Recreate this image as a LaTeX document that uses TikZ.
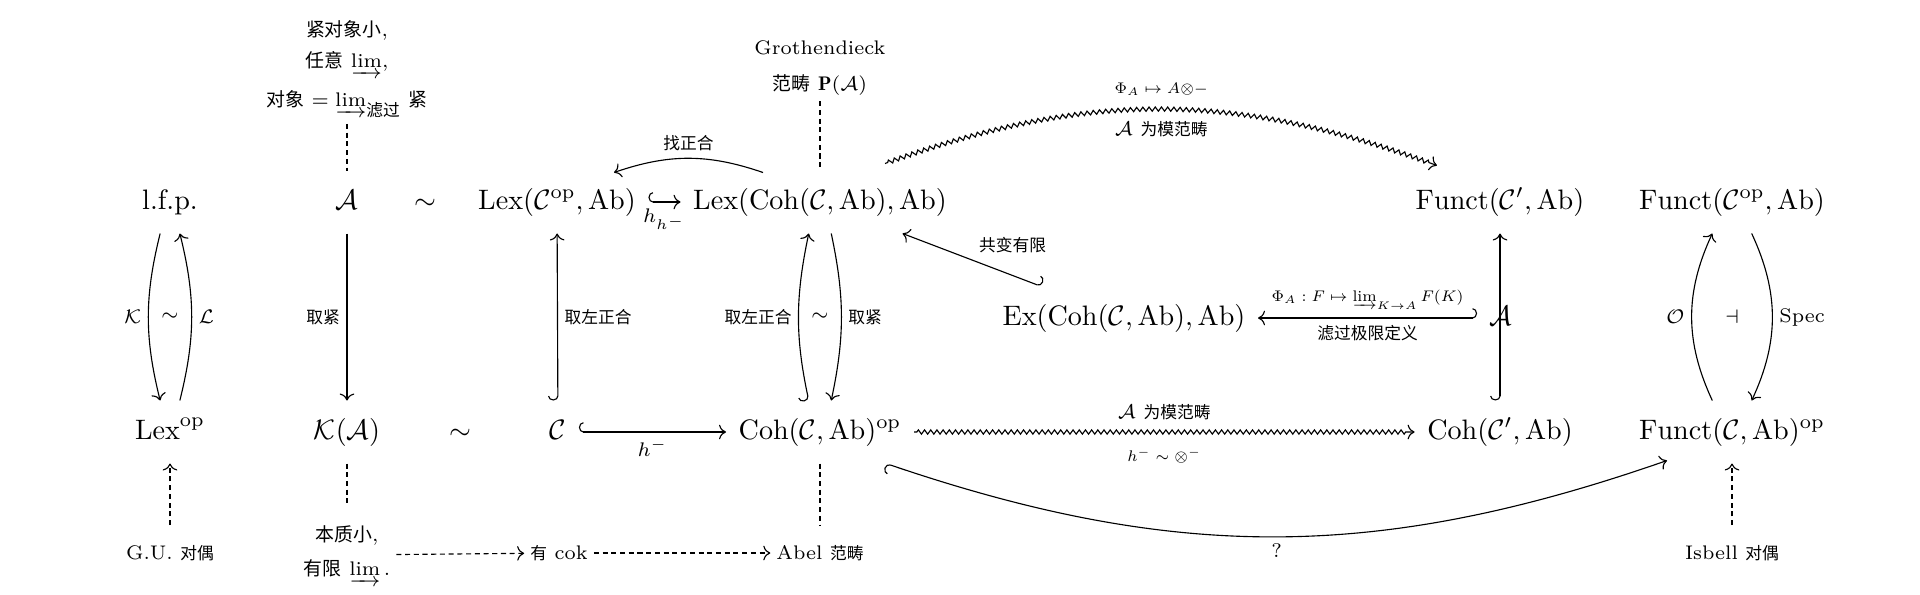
\documentclass[tikz,border=0pt]{standalone}
\usepackage{amsmath}
\usepackage{fontspec}
\newfontfamily\cjk{Noto Sans CJK SC}[Scale=0.85]
\newfontfamily\cjkb{Noto Sans CJK SC}[Scale=0.96]
\newcommand\shrk[1]{\scalebox{0.78}{#1}}
\usetikzlibrary{arrows.meta,decorations.pathmorphing,calc}
\begin{document}
\begin{tikzpicture}[x=0.3555pt,y=-0.3555pt,
  obj/.style={inner xsep=1ex, inner ysep=6pt, text height=7.5pt, text depth=2.5pt},
  lab/.style={font=\scriptsize, inner sep=2.3pt},
  tlab/.style={font=\scriptsize, inner sep=2pt},
  note/.style={font=\scriptsize, inner sep=2pt, align=center},
  ar/.style={-{Computer Modern Rightarrow}},
  hk/.style={{Hooks[right,length=1.6pt,width=7pt]}-{Computer Modern Rightarrow}},
  hkr/.style={{Hooks[left,length=1.6pt,width=7pt]}-{Computer Modern Rightarrow}},
  dsh/.style={dash pattern=on 1.8pt off 1.3pt},
  wavy/.style={decorate, decoration={zigzag, amplitude=0.75pt, segment length=2.2pt, pre length=1pt, post length=3pt}},
]
\useasboundingbox (0,0) rectangle (1920,594);
% objects
\node[obj] (lfp) at (170,202) {l.f.p.};
\node[obj] (a) at (347,202) {$\mathcal{A}$};
\node[obj] (sim1) at (425,202) {$\sim$};
\node[obj] (lexcop) at (557,202) {$\mathrm{Lex}(\mathcal{C}^{\mathrm{op}},\mathrm{Ab})$};
\node[obj] (lexcoh) at (820,202) {$\mathrm{Lex}(\mathrm{Coh}(\mathcal{C},\mathrm{Ab}),\mathrm{Ab})$};
\node[obj] (functp) at (1500,202) {$\mathrm{Funct}(\mathcal{C}',\mathrm{Ab})$};
\node[obj] (functcop) at (1732,202) {$\mathrm{Funct}(\mathcal{C}^{\mathrm{op}},\mathrm{Ab})$};
\node[obj] (ex) at (1124,318) {$\mathrm{Ex}(\mathrm{Coh}(\mathcal{C},\mathrm{Ab}),\mathrm{Ab})$};
\node[obj] (amid) at (1501,318) {$\mathcal{A}$};
\node[obj] (lexop) at (170,432) {$\mathrm{Lex}^{\mathrm{op}}$};
\node[obj] (ka) at (347,432) {$\mathcal{K}(\mathcal{A})$};
\node[obj] (sim2) at (460,432) {$\sim$};
\node[obj] (c) at (558,432) {$\mathcal{C}$};
\node[obj] (cohop) at (820,432) {$\mathrm{Coh}(\mathcal{C},\mathrm{Ab})^{\mathrm{op}}$};
\node[obj] (cohp) at (1500,432) {$\mathrm{Coh}(\mathcal{C}',\mathrm{Ab})$};
\node[obj] (functop) at (1732,432) {$\mathrm{Funct}(\mathcal{C},\mathrm{Ab})^{\mathrm{op}}$};
% notes
\node[note] (t1) at (347,30) {{\cjkb 紧对象小},};
\node[note] (t2) at (347,64) {{\cjkb 任意} $\varinjlim$,};
\node[note] (t3) at (347,104) {{\cjkb 对象} $=\varinjlim_{\mbox{\cjk 滤过}}$ {\cjkb 紧}};
\node[note] (groth) at (820,68) {Grothendieck\\[4.5pt]{\cjkb 范畴} $\mathbf{P}(\mathcal{A})$};
\node[note] (gu) at (170,553) {G.U. {\cjk 对偶}};
\node[note] (ess) at (347,555) {{\cjkb 本质小},\\[4pt]{\cjkb 有限} $\varinjlim$\,.};
\node[note] (cok) at (559,553) {{\cjk 有} cok};
\node[note] (abel) at (820,553) {Abel {\cjk 范畴}};
\node[note] (isbell) at (1732,553) {Isbell {\cjk 对偶}};
% column 1
\draw[ar] ([xshift=-3.5pt]lfp.south) to[bend right=14] node[lab,left] (lK) {$\mathcal{K}$} ([xshift=-3.5pt]lexop.north);
\draw[ar] ([xshift=3.5pt]lexop.north) to[bend right=14] node[lab,right] (lL) {$\mathcal{L}$} ([xshift=3.5pt]lfp.south);
\path (lfp) -- node[lab] (s3) {$\sim$} (lexop);
% column 2, 3, 4
\draw[ar] (a) -- node[lab,left] (l1) {\cjk 取紧} (ka);
\draw[hk] (c) -- node[lab,right] (l2) {\cjk 取左正合} (lexcop);
\draw[hk] ([xshift=-4pt]cohop.north) to[bend left=12] node[lab,left] (l3) {\cjk 取左正合} ([xshift=-4pt]lexcoh.south);
\draw[ar] ([xshift=4pt]lexcoh.south) to[bend left=12] node[lab,right] (l4) {\cjk 取紧} ([xshift=4pt]cohop.north);
\path (lexcoh) -- node[lab] (s4) {$\sim$} (cohop);
\draw[hk] (lexcop) -- node[lab,below] (l5) {$h_{h^-}$} (lexcoh);
\draw[ar] ([shift={(-57,2)}]lexcoh.north) to[bend right=19] node[lab,above] (l6) {\cjk 找正合} ([shift={(57,2)}]lexcop.north);
\draw[hk] (c) -- node[lab,below] (l7) {$h^-$} (cohop);
\draw[hkr] (ex) -- node[lab,above right] (l8) {\cjk 共变有限} (lexcoh);
\draw[hkr] (amid) -- node[tlab,above=1pt] (l9) {\shrk{$\Phi_A : F \mapsto \varinjlim_{K\to A} F(K)$}} node[lab,below] (l10) {\cjk 滤过极限定义} (ex);
\draw[hk] (cohp) -- (functp);
% column 6
\draw[ar] ([xshift=-7pt]functop.north) to[bend left=25] node[lab,left] (lO) {$\mathcal{O}$} ([xshift=-7pt]functcop.south);
\draw[ar] ([xshift=7pt]functcop.south) to[bend left=25] node[lab,right] (lS) {Spec} ([xshift=7pt]functop.north);
\path (functcop) -- node[lab] (s5) {$\dashv$} (functop);
% wavy and long arrows
\draw[ar,wavy] ([shift={(65,-7)}]lexcoh.north) to[bend left=20] node[tlab,above=2.5pt] (l11) {\shrk{$\Phi_A \mapsto A{\otimes}{-}$}} node[lab,below=2pt] (l12) {$\mathcal{A}$ {\cjk 为模范畴}} ([shift={(-63,-5)}]functp.north);
\draw[ar,wavy] (cohop) -- node[lab,above=2pt] (l13) {$\mathcal{A}$ {\cjk 为模范畴}} node[tlab,below=3.5pt] (l14) {\shrk{$h^- \sim \otimes^-$}} (cohp);
\draw[hkr] ([shift={(66,0)}]cohop.south) to[bend right=19] node[lab,below] (lq) {?} ([shift={(-65,-3)}]functop.south);
% dashed
\draw[dsh] (t3) -- (a);
\draw[dsh] (groth) -- (lexcoh);
\draw[dsh,shorten >=6pt] (ka) -- (ess);
\draw[dsh,shorten >=5pt] (cohop) -- (abel);
\draw[dsh,ar,shorten <=5pt] (gu) -- (lexop);
\draw[dsh,ar,shorten <=5pt] (isbell) -- (functop);
\draw[dsh,ar] (ess) -- (cok);
\draw[dsh,ar] (cok) -- (abel);
\end{tikzpicture}
\end{document}
